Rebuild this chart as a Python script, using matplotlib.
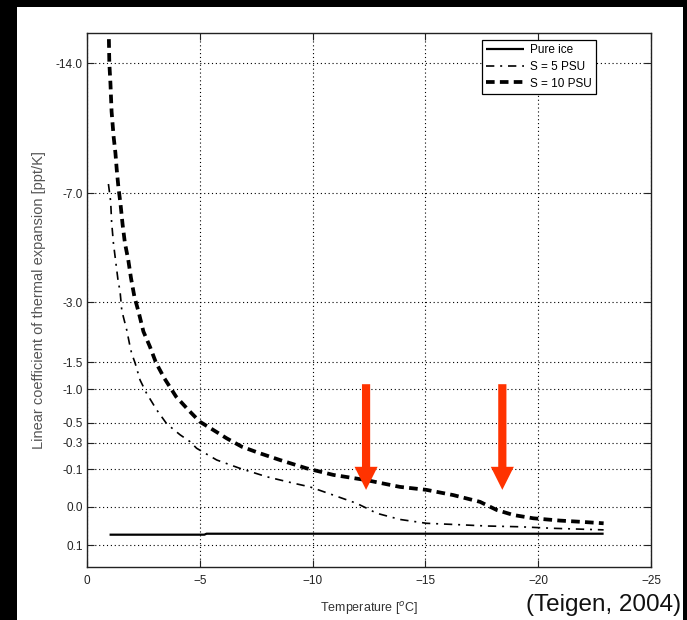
import numpy as np
import matplotlib
matplotlib.use('Agg')
import matplotlib.pyplot as plt
from matplotlib.patches import Rectangle

plt.rcParams['font.family'] = ['Liberation Sans Narrow', 'Liberation Sans', 'DejaVu Sans']

# y axis of the original is not linear: tick values and where they sit (pixel rows)
ytick_vals = [-14.0, -7.0, -3.0, -1.5, -1.0, -0.5, -0.3, -0.1, 0.0, 0.1]
ytick_labels = ['-14.0', '-7.0', '-3.0', '-1.5', '-1.0', '-0.5', '-0.3', '-0.1', '0.0', '0.1']
ytick_rows = [63.3, 193.3, 302.3, 362.3, 389.0, 422.7, 442.7, 469.3, 506.7, 545.3]

xticks = [0, -5, -10, -15, -20, -25]

# pure ice
t_ice = [-1.0, -5.2, -5.3, -22.9]
a_ice = [0.0725, 0.0725, 0.070, 0.070]

# S = 5 PSU
t_s5 = [-0.95, -1.05, -1.09, -1.17, -1.39, -1.46, -1.54, -1.61, -1.76, -1.91,
        -1.98, -2.13, -2.35, -2.64, -3.09, -3.53, -4.12, -4.57, -4.86, -5.75,
        -6.78, -7.97, -9.14, -9.88, -10.92, -11.95, -12.4, -12.84, -13.87, -15.05,
        -16.24, -17.72, -19.19, -20.67, -22.9]
a_s5 = [-7.5, -6.69, -5.96, -5.18, -3.71, -3.45, -2.81, -2.64, -2.31, -1.89,
        -1.72, -1.49, -1.17, -0.936, -0.69, -0.49, -0.38, -0.31, -0.258, -0.17,
        -0.107, -0.080, -0.063, -0.053, -0.031, -0.009, 0.004, 0.017, 0.033, 0.043,
        0.046, 0.050, 0.052, 0.056, 0.060]

# S = 10 PSU
t_s10 = [-0.97, -0.99, -1.04, -1.09, -1.18, -1.26, -1.32, -1.39, -1.49, -1.58,
         -1.68, -1.83, -1.95, -2.10, -2.30, -2.50, -2.79, -3.06, -3.43, -3.95,
         -4.49, -5.0, -5.6, -6.19, -6.86, -7.67, -8.55, -9.74, -10.92, -12.39,
         -13.87, -15.05, -16.24, -17.42, -18.16, -18.9, -19.78, -20.97, -21.85, -22.9]
a_s10 = [-15.3, -14.0, -12.9, -11.4, -10.05, -9.17, -8.25, -7.36, -6.57, -5.84,
         -5.18, -4.55, -3.89, -3.21, -2.73, -2.27, -1.89, -1.49, -1.20, -0.886,
         -0.69, -0.515, -0.427, -0.344, -0.27, -0.22, -0.17, -0.107, -0.085, -0.071,
         -0.053, -0.045, -0.031, -0.013, 0.0085, 0.0215, 0.030, 0.036, 0.039, 0.043]

# arrows: x positions, top and tip values
arrow_t = [-12.37, -18.41]
arrow_from = -1.09
arrow_to = -0.045

# piecewise linear scale built from the tick rows
kv = np.array([-40.0] + ytick_vals + [1.0])
kp = np.array([63.3 - 26 * 130 / 7] + ytick_rows + [545.3 + 9 * 38.6])

def fwd(v):
    return np.interp(v, kv, kp)

def inv(p):
    return np.interp(p, kp, kv)

fig = plt.figure(figsize=(6.87, 6.2), dpi=100, facecolor='black')
fig.patches.append(Rectangle((17 / 687, 0), (683 - 17) / 687, (620 - 7) / 620,
                             transform=fig.transFigure, facecolor='white',
                             edgecolor='none', zorder=-5))

ax = fig.add_axes([87 / 687, 53 / 620, 564 / 687, 534 / 620])
ax.set_yscale('function', functions=(fwd, inv))

ax.plot(t_ice, a_ice, color='black', lw=1.6, solid_capstyle='butt', label='Pure ice')
ax.plot(t_s5, a_s5, color='black', lw=1.2, linestyle=(0, (5, 3.5, 1.2, 3.5)), label='S = 5 PSU')
ax.plot(t_s10, a_s10, color='black', lw=2.7, linestyle=(0, (2.3, 1.4)), label='S = 10 PSU')

for t in arrow_t:
    ax.annotate('', xy=(t, arrow_to), xytext=(t, arrow_from),
                arrowprops=dict(width=5.9, headwidth=16.6, headlength=16.6,
                                facecolor='#ff3300', edgecolor='none', shrink=0))

ax.set_xlim(0, -25)
ax.set_ylim(inv(567.0), inv(33.0))
ax.set_xticks(xticks)
ax.set_yticks(ytick_vals)
ax.set_yticklabels(ytick_labels)
ax.yaxis.set_minor_locator(matplotlib.ticker.NullLocator())

ax.grid(True, color='black', linestyle=(0, (1, 2.5)), linewidth=0.8)
ax.tick_params(direction='in', length=5, width=0.8, top=True, right=True,
               labelsize=8.5, colors='#222222')
ax.tick_params(axis='x', pad=6)
ax.tick_params(axis='y', pad=3)
for s in ax.spines.values():
    s.set_linewidth(1.0)
    s.set_color('#222222')

ax.set_xlabel('Temperature [$^o$C]', fontsize=9, color='#333333', labelpad=9)
ax.set_ylabel('Linear coefficient of thermal expansion [ppt/K]', fontsize=10.5,
              color='#555555', labelpad=7)

leg = ax.legend(loc='upper right', bbox_to_anchor=(509 / 564, 527 / 534), fontsize=8.5,
                fancybox=False, framealpha=1, edgecolor='black', handlelength=3.2,
                borderpad=0.35, labelspacing=0.4, handletextpad=0.5, borderaxespad=0)
leg.get_frame().set_linewidth(0.9)

fig.text(681 / 687, 15 / 620, '(Teigen, 2004)', ha='right', va='center',
         fontsize=17.5, family=['Liberation Sans', 'DejaVu Sans'], color='#111111')

fig.savefig('out.png', dpi=100, facecolor=fig.get_facecolor())
